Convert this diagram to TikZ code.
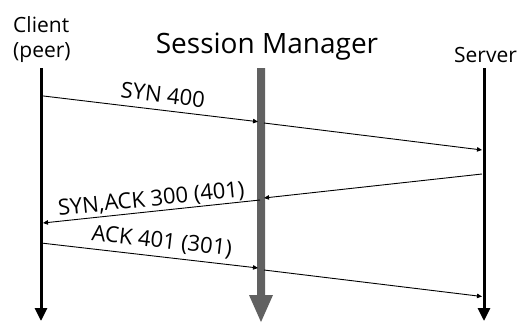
\documentclass[tikz,border=0pt]{standalone}
\usepackage{fontspec}
\setmainfont{Open Sans}
\usetikzlibrary{arrows.meta}
\begin{document}
\begin{tikzpicture}[x=1pt,y=-1pt,
  life/.style={line width=3pt,-{Triangle[length=13pt,width=12pt]}},
  msg/.style={line width=0.9pt,-{Triangle[length=5pt,width=4.5pt]}},
  lbl/.style={font=\fontsize{22}{26}\selectfont,anchor=base,inner sep=0pt},
  hdr/.style={font=\fontsize{21}{25}\selectfont,inner sep=0pt}]
\useasboundingbox (0,0) rectangle (525,322);
% lifelines
\coordinate (ct) at (41,68); \coordinate (cb) at (41,321);
\coordinate (st) at (484,68); \coordinate (sb) at (484,321);
\draw[life] (ct) -- (cb);
\draw[life] (st) -- (sb);
% session manager bar
\fill[black!62] (257,68) -- (265,68) -- (265,295) -- (273,295) -- (261,322) -- (249,295) -- (257,295) -- cycle;
% headers
\node[hdr,anchor=base west] (client) at (13,32) {Client};
\node[hdr,anchor=base west] (peer) at (13,57) {(peer)};
\node[hdr,anchor=base] (server) at (485.5,62) {Server};
\node[font=\fontsize{28}{32}\selectfont,anchor=base,inner sep=0pt] (sm) at (267,53) {Session Manager};
% message points
\coordinate (a1) at (41,95.7); \coordinate (a2) at (258,121.7);
\coordinate (a3) at (264,123); \coordinate (a4) at (482,150);
\coordinate (b1) at (482,174); \coordinate (b2) at (264,198);
\coordinate (b3) at (260,200); \coordinate (b4) at (43,223);
\coordinate (c1) at (41,243); \coordinate (c2) at (258,268);
\coordinate (c3) at (264,270); \coordinate (c4) at (482,296.5);
\draw[msg] (a1) -- (a2);
\draw[msg] (a3) -- (a4);
\draw[msg] (b1) -- (b2);
\draw[msg] (b3) -- (b4);
\draw[msg] (c1) -- (c2);
\draw[msg] (c3) -- (c4);
% labels
\node[lbl,rotate=-6.8] (l1) at (162,102.5) {SYN 400};
\node[lbl,rotate=5.9] (l2) at (152,206) {SYN,ACK 300 (401)};
\node[lbl,rotate=-6.5] (l3) at (161,248) {ACK 401 (301)};
\end{tikzpicture}
\end{document}
